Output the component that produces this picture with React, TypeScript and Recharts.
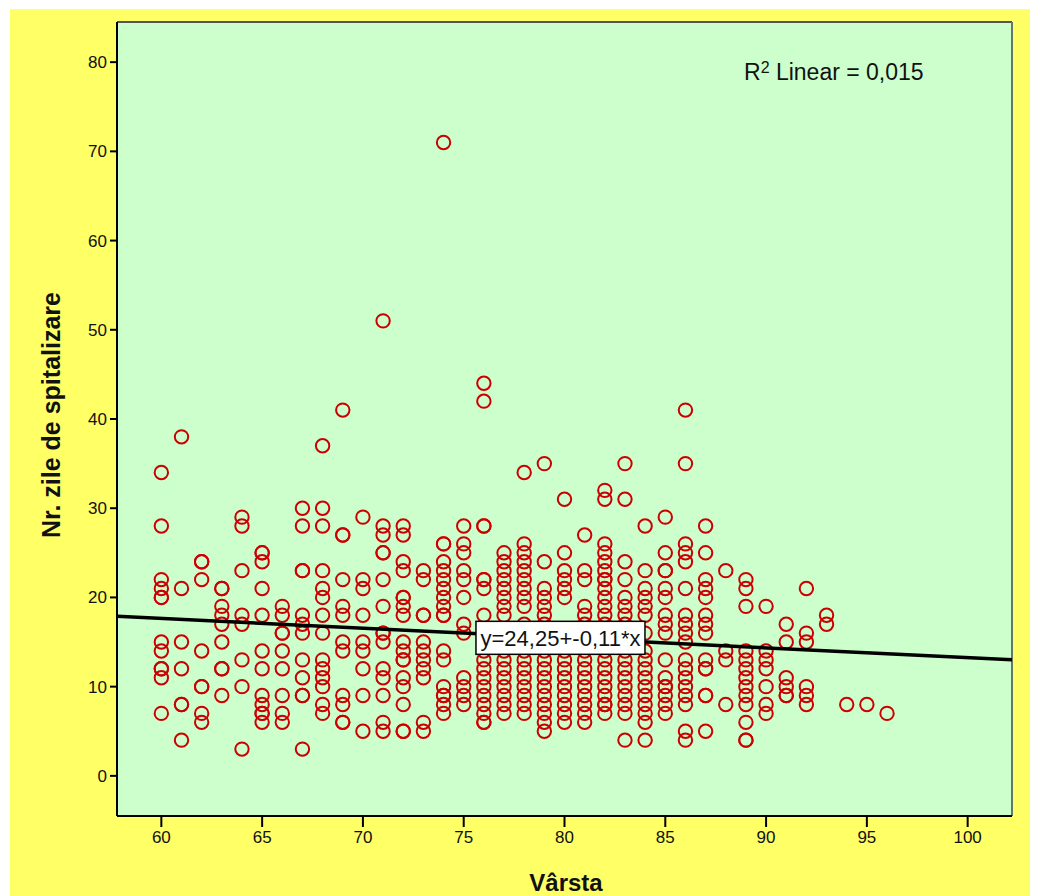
import React from 'react';
import { ScatterChart, Scatter, XAxis, YAxis, CartesianGrid, ReferenceLine } from 'recharts';

const ages = [60, 61, 62, 63, 64, 65, 66, 67, 68, 69, 70, 71, 72, 73, 74, 75, 76, 77, 78, 79, 80, 81, 82, 83, 84, 85, 86, 87, 88, 89, 90, 91, 92, 93, 94, 95, 96];

const daysByAge: number[][] = [
  [34, 28, 22, 21, 20, 20, 15, 14, 12, 12, 11, 7],
  [38, 21, 15, 12, 8, 8, 4],
  [24, 24, 22, 14, 10, 10, 7, 6],
  [21, 21, 19, 18, 17, 15, 12, 12, 9],
  [29, 28, 23, 18, 17, 13, 10, 3],
  [25, 25, 24, 21, 18, 14, 12, 9, 8, 7, 7, 6],
  [19, 18, 16, 16, 14, 12, 9, 7, 6],
  [30, 28, 23, 23, 18, 17, 16, 13, 11, 9, 9, 3],
  [37, 30, 28, 23, 21, 20, 18, 16, 13, 12, 11, 10, 8, 7],
  [41, 27, 27, 22, 19, 18, 15, 14, 9, 8, 6, 6],
  [29, 22, 21, 18, 15, 14, 12, 9, 5],
  [51, 28, 27, 25, 25, 22, 19, 16, 16, 15, 12, 11, 9, 6, 5],
  [28, 27, 24, 23, 20, 20, 19, 18, 15, 14, 13, 13, 11, 10, 8, 5, 5],
  [23, 22, 18, 18, 15, 14, 13, 12, 11, 6, 5],
  [71, 26, 26, 24, 23, 22, 21, 20, 19, 18, 18, 14, 13, 10, 9, 9, 8, 7],
  [28, 26, 25, 23, 22, 20, 17, 16, 11, 10, 9, 8],
  [44, 42, 28, 28, 22, 22, 21, 18, 16, 14, 13, 12, 11, 10, 9, 8, 7, 6, 6],
  [25, 24, 23, 22, 21, 20, 19, 18, 16, 15, 14, 13, 12, 11, 10, 9, 8, 7],
  [34, 26, 25, 24, 23, 22, 21, 20, 19, 17, 15, 14, 13, 12, 11, 10, 9, 8, 7],
  [35, 24, 21, 20, 19, 18, 17, 16, 14, 13, 12, 11, 10, 9, 8, 7, 6, 5],
  [31, 25, 23, 22, 21, 20, 15, 14, 13, 12, 11, 10, 9, 8, 7, 6],
  [27, 23, 22, 19, 18, 17, 14, 13, 12, 11, 10, 9, 8, 7, 6],
  [32, 31, 26, 25, 24, 23, 22, 22, 21, 20, 19, 18, 17, 15, 14, 13, 12, 11, 10, 9, 8, 8, 7],
  [35, 31, 24, 22, 20, 19, 18, 17, 16, 14, 13, 12, 11, 10, 9, 8, 7, 4],
  [28, 23, 21, 20, 19, 18, 16, 14, 13, 12, 11, 10, 9, 8, 7, 6, 4],
  [29, 25, 23, 23, 21, 20, 18, 17, 16, 13, 11, 10, 10, 9, 8, 7],
  [41, 35, 26, 25, 24, 21, 18, 17, 16, 15, 13, 12, 11, 10, 9, 8, 5, 4],
  [28, 25, 22, 21, 20, 18, 17, 16, 13, 12, 12, 9, 9, 5],
  [23, 14, 13, 8],
  [22, 21, 19, 14, 13, 12, 11, 10, 9, 8, 6, 4, 4],
  [19, 14, 13, 12, 10, 8, 7],
  [17, 15, 11, 10, 9, 9],
  [21, 16, 15, 10, 9, 8],
  [18, 17],
  [8],
  [8],
  [7],
];

const xTicks = [60, 65, 70, 75, 80, 85, 90, 95, 100];
const yTicks = [0, 10, 20, 30, 40, 50, 60, 70, 80];
const xDomain = [57.8, 102.2];
const yDomain = [-4.5, 84.5];
const intercept = 24.25;
const slope = -0.11;
const r2Text = '0,015';
const equationText = 'y=24,25+-0,11*x';
const labelAge = 79.8;

const points = ages.flatMap((a, i) => daysByAge[i].map((d) => ({ x: a, y: d })));
const fitLine = xDomain.map((x) => ({ x, y: intercept + slope * x }));
const labelPoint = [{ x: labelAge, y: intercept + slope * labelAge }];

const FONT = "'Liberation Sans', Arial, sans-serif";
const NARROW = "'Liberation Sans Narrow', 'Arial Narrow', 'Liberation Sans', Arial, sans-serif";

const RingShape = (props: any) => {
  const { cx, cy } = props;
  return <circle cx={cx} cy={cy} r={6.7} fill="none" stroke="#CC0000" strokeWidth={2} />;
};

const NoShape = () => <g />;

const LabelShape = (props: any) => {
  const { cx, cy } = props;
  const w = 169;
  const h = 33;
  return (
    <g>
      <rect x={cx - w / 2} y={cy - h / 2} width={w} height={h} fill="#ffffff" stroke="#000" strokeWidth={1.5} />
      <text x={cx} y={cy + 8} textAnchor="middle" fontFamily={FONT} fontSize={22} fill="#111" textLength={160}>
        {equationText}
      </text>
    </g>
  );
};

export default function App() {
  return (
    <div style={{ position: 'absolute', left: 0, top: 0, width: 1041, height: 896, background: '#ffffff', overflow: 'hidden' }}>
      <div style={{ position: 'absolute', left: 10, top: 9, width: 1020, height: 887, background: '#FFFF66' }} />
      <div style={{ position: 'absolute', left: 0, top: 0 }}>
        <ScatterChart width={1041} height={896} margin={{ top: 22, right: 29, bottom: 40, left: 57 }}>
          <CartesianGrid fill="#CCFFCC" horizontal={false} vertical={false} />
          <XAxis
            type="number"
            dataKey="x"
            domain={xDomain}
            ticks={xTicks}
            allowDataOverflow
            height={40}
            tickSize={11}
            tickMargin={4}
            axisLine={{ stroke: '#000', strokeWidth: 2 }}
            tickLine={{ stroke: '#000', strokeWidth: 2 }}
            tick={{ fill: '#111', fontSize: 17, fontFamily: NARROW }}
          />
          <YAxis
            type="number"
            dataKey="y"
            domain={yDomain}
            ticks={yTicks}
            allowDataOverflow
            width={60}
            tickSize={7}
            tickMargin={3}
            axisLine={{ stroke: '#000', strokeWidth: 2 }}
            tickLine={{ stroke: '#000', strokeWidth: 2 }}
            tick={{ fill: '#111', fontSize: 17, fontFamily: NARROW }}
          />
          <ReferenceLine y={yDomain[1]} stroke="#555" strokeWidth={2} />
          <ReferenceLine x={xDomain[1]} stroke="#667766" strokeWidth={2} />
          <Scatter data={points} shape={RingShape} isAnimationActive={false} />
          <Scatter data={fitLine} line={{ stroke: '#000', strokeWidth: 3.5 }} shape={NoShape} isAnimationActive={false} />
          <Scatter data={labelPoint} shape={LabelShape} isAnimationActive={false} />
        </ScatterChart>
      </div>
      <div style={{ position: 'absolute', left: 744, top: 57, fontFamily: FONT, fontSize: 23, color: '#111', whiteSpace: 'nowrap', lineHeight: '30px' }}>
        R<sup style={{ fontSize: 16, verticalAlign: 'top', position: 'relative', top: -4 }}>2</sup> Linear = {r2Text}
      </div>
      <div style={{ position: 'absolute', left: 466, top: 868, width: 200, textAlign: 'center', fontFamily: NARROW, fontSize: 24, fontWeight: 'bold', color: '#111', lineHeight: '30px' }}>
        Vârsta
      </div>
      <div
        style={{
          position: 'absolute',
          left: 51,
          top: 415,
          transform: 'translate(-50%, -50%) rotate(-90deg)',
          fontFamily: NARROW,
          fontSize: 25,
          fontWeight: 'bold',
          color: '#111',
          whiteSpace: 'nowrap',
        }}
      >
        Nr. zile de spitalizare
      </div>
    </div>
  );
}
